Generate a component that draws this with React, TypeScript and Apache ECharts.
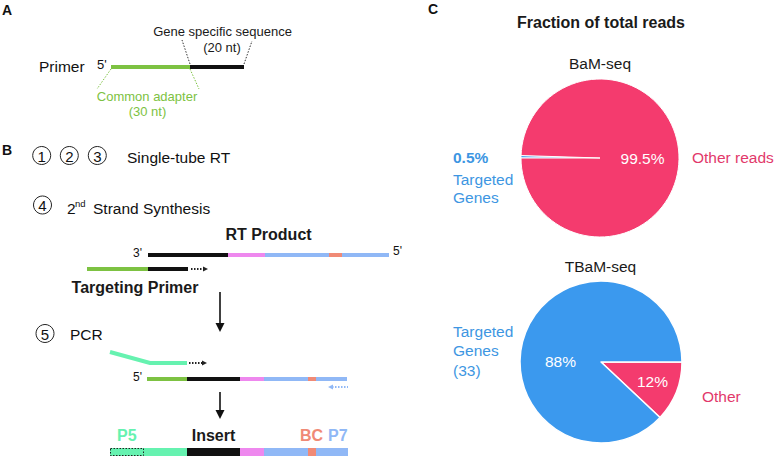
import React, { useEffect, useRef } from "react";
import * as echarts from "echarts";

// ---- data ----
const bamTitle = "BaM-seq";
const bamCategories = ["Targeted Genes", "Other reads"];
const bamValues = [0.5, 99.5];
const tbamTitle = "TBaM-seq";
const tbamCategories = ["Other", "Targeted Genes (33)"];
const tbamValues = [12, 88];
const panelCTitle = "Fraction of total reads";

const FAMILY = '"Liberation Sans", Arial, Helvetica, sans-serif';
const PINK = "#F43B6E";
const BLUE = "#3B99EE";
const PINK_T = "#E2396B";
const BLUE_T = "#3D96E2";
const GREEN = "#7DC242";
const MINT = "#66F2B0";
const VIOLET = "#EE88EE";
const LBLUE = "#90B8F6";
const SALMON = "#F08A76";
const DARK = "#111111";

function txt(x: number, y: number, text: string, size: number, fill = "#111", weight = "normal", align = "left") {
  return {
    type: "text",
    x,
    y,
    z: 100,
    silent: true,
    style: {
      text,
      fill,
      font: `${weight} ${size}px ${FAMILY}`,
      align,
      textAlign: align,
      verticalAlign: "middle",
      textVerticalAlign: "middle",
    },
  };
}

function seg(x1: number, x2: number, y: number, color: string, lw = 4, dash?: number[]) {
  return {
    type: "line",
    z: 100,
    silent: true,
    shape: { x1, y1: y, x2, y2: y },
    style: { stroke: color, lineWidth: lw, lineDash: dash },
  };
}

function ln(x1: number, y1: number, x2: number, y2: number, color: string, lw = 1, dash?: number[]) {
  return {
    type: "line",
    z: 100,
    silent: true,
    shape: { x1, y1, x2, y2 },
    style: { stroke: color, lineWidth: lw, lineDash: dash },
  };
}

function circ(cx: number, cy: number, label: string) {
  return [
    {
      type: "circle",
      z: 100,
      silent: true,
      shape: { cx, cy, r: 9 },
      style: { fill: "#fff", stroke: "#222", lineWidth: 1 },
    },
    txt(cx, cy + 0.5, label, 15, "#111", "normal", "center"),
  ];
}

function tri(points: number[][], color: string) {
  return { type: "polygon", z: 100, silent: true, shape: { points }, style: { fill: color } };
}

function dottedArrowRight(x1: number, x2: number, y: number, color: string) {
  return [ln(x1, y, x2 - 4, y, color, 2, [1.5, 1.5]), tri([[x2 - 5, y - 2.5], [x2, y], [x2 - 5, y + 2.5]], color)];
}

function dottedArrowLeft(x1: number, x2: number, y: number, color: string) {
  return [ln(x1 + 4, y, x2, y, color, 2, [1.5, 1.5]), tri([[x1 + 5, y - 2.5], [x1, y], [x1 + 5, y + 2.5]], color)];
}

function downArrow(x: number, y1: number, y2: number) {
  return [ln(x, y1, x, y2 - 7, "#111", 1.6), tri([[x - 4.5, y2 - 9], [x + 4.5, y2 - 9], [x, y2]], "#111")];
}

function buildGraphics() {
  const g: any[] = [];
  // Panel A
  g.push(txt(2, 10, "A", 14, "#111", "bold"));
  g.push(txt(222.5, 31, "Gene specific sequence", 13, "#1a1a1a", "normal", "center"));
  g.push(txt(222, 47.5, "(20 nt)", 13, "#1a1a1a", "normal", "center"));
  g.push(txt(39, 66, "Primer", 15.5));
  g.push(txt(97, 64, "5'", 13));
  g.push(seg(111, 190, 67, GREEN));
  g.push(seg(190, 244, 67, DARK));
  g.push(ln(190, 64, 182, 40, "#333", 1, [1.5, 1.5]));
  g.push(ln(244, 64, 252, 41, "#333", 1, [1.5, 1.5]));
  g.push(ln(111, 69, 97, 89, GREEN, 1, [1.5, 1.5]));
  g.push(ln(190, 69, 199, 89, GREEN, 1, [1.5, 1.5]));
  g.push(txt(147, 96, "Common adapter", 13, GREEN, "normal", "center"));
  g.push(txt(147.5, 111.5, "(30 nt)", 13, GREEN, "normal", "center"));

  // Panel B
  g.push(txt(2, 150, "B", 14, "#111", "bold"));
  g.push(...circ(41.7, 155.5, "1"), ...circ(69.3, 155.5, "2"), ...circ(97.3, 155.5, "3"));
  g.push(txt(127, 157, "Single-tube RT", 15.5));
  g.push(...circ(42.5, 205, "4"));
  g.push(txt(67, 208, "2", 15.5));
  g.push(txt(75, 203, "nd", 9.5));
  g.push(txt(93, 208, "Strand Synthesis", 15.5));

  g.push(txt(268.5, 234, "RT Product", 16, "#1a1a1a", "bold", "center"));
  g.push(txt(133, 253, "3'", 12));
  g.push(seg(148, 228, 255, DARK));
  g.push(seg(228, 265, 255, VIOLET));
  g.push(seg(265, 329, 255, LBLUE));
  g.push(seg(329, 342, 255, SALMON));
  g.push(seg(342, 389, 255, LBLUE));
  g.push(txt(393, 251, "5'", 12));

  g.push(seg(87, 148, 269, GREEN));
  g.push(seg(148, 188, 269, DARK));
  g.push(...dottedArrowRight(191, 208, 269, "#222"));
  g.push(txt(135, 287, "Targeting Primer", 16, "#1a1a1a", "bold", "center"));

  g.push(...downArrow(220, 292, 332));

  g.push(...circ(45, 333.5, "5"));
  g.push(txt(70, 334, "PCR", 15.5));
  g.push({
    type: "polyline",
    z: 100,
    silent: true,
    shape: { points: [[110, 352], [150, 363], [187, 363]] },
    style: { stroke: MINT, lineWidth: 4, fill: null },
  });
  g.push(...dottedArrowRight(189, 207, 363, "#222"));

  g.push(txt(133, 377, "5'", 12));
  g.push(seg(147, 187, 379, GREEN));
  g.push(seg(187, 240, 379, DARK));
  g.push(seg(240, 264, 379, VIOLET));
  g.push(seg(264, 308, 379, LBLUE));
  g.push(seg(308, 316, 379, SALMON));
  g.push(seg(316, 347, 379, LBLUE));
  g.push(...dottedArrowLeft(328, 348, 387, LBLUE));

  g.push(...downArrow(220, 392, 419));

  g.push(txt(117, 435, "P5", 16, MINT, "bold"));
  g.push(txt(213.5, 435, "Insert", 16, "#1a1a1a", "bold", "center"));
  g.push(txt(300, 435, "BC", 16, SALMON, "bold"));
  g.push(txt(328, 435, "P7", 16, LBLUE, "bold"));

  g.push(seg(110, 187, 452, MINT, 8));
  g.push(seg(187, 240, 452, DARK, 8));
  g.push(seg(240, 264, 452, VIOLET, 8));
  g.push(seg(264, 308, 452, LBLUE, 8));
  g.push(seg(308, 316, 452, SALMON, 8));
  g.push(seg(316, 348, 452, LBLUE, 8));
  g.push({
    type: "rect",
    z: 101,
    silent: true,
    shape: { x: 110.5, y: 448.5, width: 33, height: 7 },
    style: { fill: "transparent", stroke: "#222", lineWidth: 1, lineDash: [1.5, 1.5] },
  });

  // Panel C
  g.push(txt(428, 9, "C", 14, "#111", "bold"));
  g.push(txt(601, 22, panelCTitle, 16, "#1a1a1a", "bold", "center"));
  g.push(txt(600, 63.5, bamTitle, 15.5, "#1a1a1a", "normal", "center"));
  g.push(txt(600.5, 266, tbamTitle, 15.5, "#1a1a1a", "normal", "center"));

  // BaM-seq labels
  g.push(txt(453, 157, `${bamValues[0]}%`, 15.5, BLUE_T, "bold"));
  bamCategories[0].split(" ").forEach((w, i) => g.push(txt(453, 179 + i * 18.5, w, 15.5, BLUE_T)));
  g.push(txt(642.5, 158, `${bamValues[1]}%`, 15.5, "#ffffff", "normal", "center"));
  g.push(txt(692, 157, bamCategories[1], 15.5, PINK_T));

  // TBaM-seq labels
  tbamCategories[1]
    .replace("Genes ", "Genes\n")
    .split(/[ \n]/)
    .forEach((w, i) => g.push(txt(453, 331 + i * 19.5, w, 15.5, BLUE_T)));
  g.push(txt(560.5, 361, `${tbamValues[1]}%`, 15.5, "#ffffff", "normal", "center"));
  g.push(txt(652.5, 381, `${tbamValues[0]}%`, 15.5, "#ffffff", "normal", "center"));
  g.push(txt(702, 396, tbamCategories[0], 15.5, PINK_T));

  return g;
}

export default function App() {
  const ref = useRef<HTMLDivElement>(null);
  useEffect(() => {
    if (!ref.current) return;
    const chart = echarts.init(ref.current, undefined, { renderer: "svg" });
    chart.setOption({
      animation: false,
      backgroundColor: "#ffffff",
      series: [
        {
          type: "pie",
          silent: true,
          z: 2,
          center: [600, 158],
          radius: 79,
          startAngle: 180,
          clockwise: true,
          avoidLabelOverlap: false,
          label: { show: false },
          labelLine: { show: false },
          itemStyle: { borderColor: "#ffffff", borderWidth: 1 },
          data: bamCategories.map((name, i) => ({
            name,
            value: bamValues[i],
            itemStyle: { color: i === 0 ? BLUE : PINK },
          })),
        },
        {
          type: "pie",
          silent: true,
          z: 2,
          center: [601, 362],
          radius: 81,
          startAngle: 0,
          clockwise: true,
          avoidLabelOverlap: false,
          label: { show: false },
          labelLine: { show: false },
          itemStyle: { borderColor: "#ffffff", borderWidth: 1.5 },
          data: tbamCategories.map((name, i) => ({
            name,
            value: tbamValues[i],
            itemStyle: { color: i === 0 ? PINK : BLUE },
          })),
        },
      ],
      graphic: { elements: buildGraphics(), z: 100 } as any,
    });
    return () => chart.dispose();
  }, []);
  return (
    <div
      ref={ref}
      style={{ position: "fixed", left: 0, top: 0, width: 777, height: 457, background: "#fff" }}
    />
  );
}
